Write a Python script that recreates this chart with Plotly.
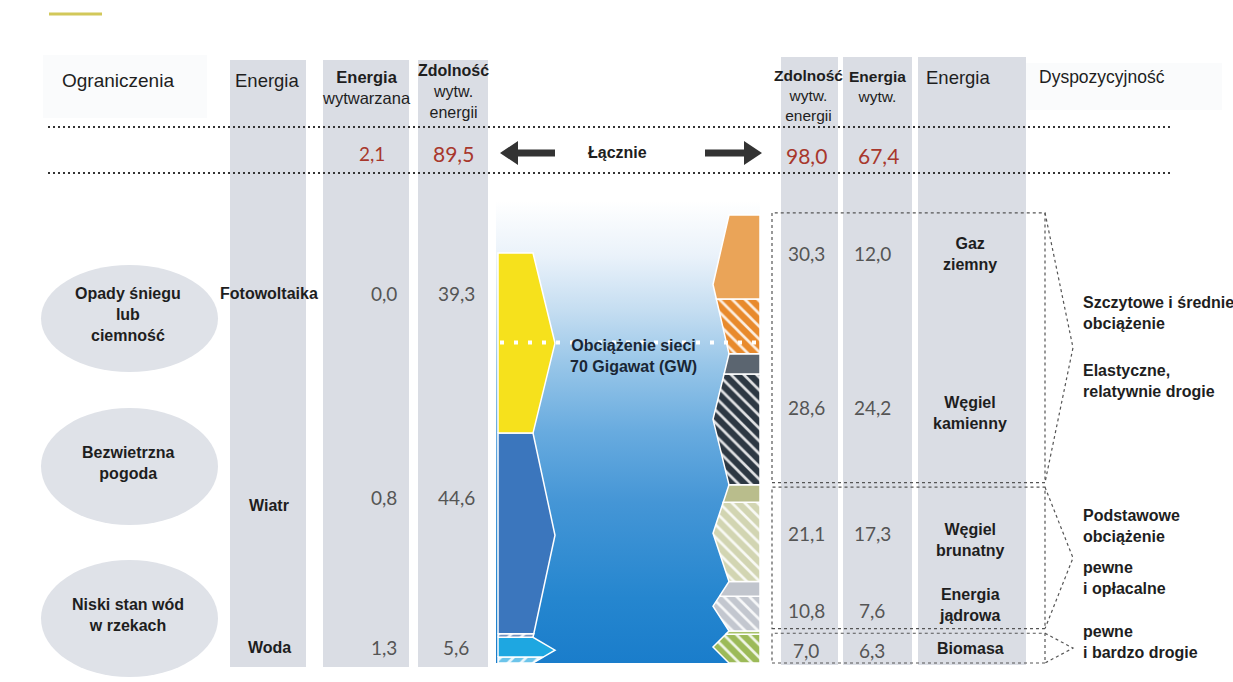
import plotly.graph_objects as go

# ---------------- data ----------------
CONSTRAINTS = ["Opady śniegu<br>lub<br>ciemność", "Bezwietrzna<br>pogoda", "Niski stan wód<br>w rzekach"]
LEFT_SOURCES = ["Fotowoltaika", "Wiatr", "Woda"]            # top -> bottom
LEFT_GENERATED = [0.0, 0.8, 1.3]
LEFT_CAPACITY = [39.3, 44.6, 5.6]
RIGHT_SOURCES = ["Gaz<br>ziemny", "Węgiel<br>kamienny", "Węgiel<br>brunatny", "Energia<br>jądrowa", "Biomasa"]
RIGHT_CAPACITY = [30.3, 28.6, 21.1, 10.8, 7.0]
RIGHT_GENERATED = [12.0, 24.2, 17.3, 7.6, 6.3]
AVAIL_GROUPS = [[0, 1], [2, 3], [4]]
AVAIL_LABELS = [["Szczytowe i średnie<br>obciążenie", "Elastyczne,<br>relatywnie drogie"],
                ["Podstawowe<br>obciążenie", "pewne<br>i opłacalne"],
                ["pewne<br>i bardzo drogie"]]
TOTAL_LEFT_GENERATED = 2.1
TOTAL_LEFT_CAPACITY = 89.5
TOTAL_RIGHT_CAPACITY = 98.0
TOTAL_RIGHT_GENERATED = 67.4
GRID_LOAD_GW = 70
GRID_LOAD_TEXT = "Obciążenie sieci<br>70 Gigawat (GW)"

# ---------------- styles / layout ----------------
W, H = 1233, 682
BASE_PX = 663.0
PX_PER_GW = 4.58
LEFT_SOLID = ["#f6e11c", "#3b76bd", "#1ea7e1"]
LEFT_HATCH = ["#f6e11c", "#7393c0", "#6cc4ea"]
RIGHT_SOLID = ["#eaa458", "#5b6570", "#b9bd8c", "#c1c5cd", "#a8c36a"]
RIGHT_HATCH = ["#e88a2c", "#2d3843", "#d2d5b2", "#c3c7cf", "#9cba58"]
COL_GRAY = "#dadde4"
BOLD = "Liberation Sans"
NUMF = "Lato"
DARK = "#1e1e1e"
NUM_GRAY = "#555555"
RED = "#a8372c"

LEFT_ROW_Y = [293, 497, 647]
LEFT_LABEL_Y = [293, 505, 647]
RIGHT_ROW_Y = [253, 407, 533, 610, 650]
RIGHT_LABEL_Y = [254, 413, 540, 605, 648]
ELLIPSE_Y = [(265, 372), (408, 525), (560, 677)]
AVAIL_Y = [[313, 381], [526, 578], [642]]


def fmt(v):
    return f"{v:.1f}".replace(".", ",")


def chevron_piece(y0, y1, ya, yb, x_flat, x_body, x_tip):
    mid = (y0 + y1) / 2.0
    half = (y1 - y0) / 2.0

    def edge(y):
        return x_body + (x_tip - x_body) * (1 - abs(y - mid) / half)

    xs = [x_flat, edge(ya)]
    ys = [ya, ya]
    if ya < mid < yb:
        xs.append(x_tip)
        ys.append(mid)
    xs += [edge(yb), x_flat, x_flat]
    ys += [yb, yb, ya]
    return xs, ys


fig = go.Figure()

# gradient background
fig.add_trace(go.Scatter(
    x=[496, 760, 760, 496, 496], y=[0, 0, 101, 101, 0], mode="lines", fill="toself",
    line=dict(width=0), hoverinfo="skip",
    fillgradient=dict(type="vertical", start=0, stop=101,
                      colorscale=[[0, "#1a7dcb"], [0.14, "#2586cf"], [0.35, "#4596d6"],
                                  [0.5, "#68abdf"], [0.64, "#96c5e8"], [0.76, "#c4ddf1"],
                                  [0.88, "#eaf2fa"], [1, "#ffffff"]])))


def add_piece(xs, ys, color, hatched, shape):
    kw = dict(x=xs, y=ys, mode="lines", fill="toself", fillcolor=color,
              line=dict(color="white", width=1.5), hoverinfo="skip")
    if hatched:
        kw["fillpattern"] = dict(shape=shape, bgcolor=color, fgcolor="rgba(255,255,255,0.85)",
                                 size=9, solidity=0.3, fillmode="replace")
    fig.add_trace(go.Scatter(**kw))


# left stack (renewables), bottom-up
cum = 0.0
for i in reversed(range(len(LEFT_SOURCES))):
    y0, y1 = cum, cum + LEFT_CAPACITY[i]
    g = LEFT_GENERATED[i]
    if g > 0:
        xs, ys = chevron_piece(y0, y1, y0, y0 + g, 498, 533, 555)
        add_piece(xs, ys, LEFT_HATCH[i], True, "/")
    xs, ys = chevron_piece(y0, y1, y0 + g, y1, 498, 533, 555)
    add_piece(xs, ys, LEFT_SOLID[i], False, "")
    cum = y1

# right stack (conventional), bottom-up
cum = 0.0
right_bounds = {}
for i in reversed(range(len(RIGHT_SOURCES))):
    y0, y1 = cum, cum + RIGHT_CAPACITY[i]
    right_bounds[i] = (y0, y1)
    g = RIGHT_GENERATED[i]
    xs, ys = chevron_piece(y0, y1, y0, y0 + g, 760, 729, 713)
    add_piece(xs, ys, RIGHT_HATCH[i], True, "\\")
    xs, ys = chevron_piece(y0, y1, y0 + g, y1, 760, 729, 713)
    add_piece(xs, ys, RIGHT_SOLID[i], False, "")
    cum = y1

# grid load line
fig.add_trace(go.Scatter(x=[500, 760], y=[GRID_LOAD_GW, GRID_LOAD_GW], mode="lines",
                         line=dict(color="white", width=4, dash="4px,10px"), hoverinfo="skip"))

shapes = []
ann = []

# header faint panels and top accent
shapes.append(dict(type="rect", xref="x", yref="y2", x0=43, x1=207, y0=55, y1=118,
                   fillcolor="#fafbfc", line=dict(width=0), layer="below"))
shapes.append(dict(type="rect", xref="x", yref="y2", x0=1026, x1=1222, y0=63, y1=110,
                   fillcolor="#fafbfc", line=dict(width=0), layer="below"))
shapes.append(dict(type="line", xref="x", yref="y2", x0=49, x1=102, y0=14, y1=14,
                   line=dict(color="#d2c85a", width=3)))

# gray columns
for x0, x1, top, bot in [(230, 306, 60, 667), (323, 409, 60, 667), (418, 488, 60, 667),
                         (781, 838, 57, 665), (843, 912, 57, 665), (918, 1026, 57, 665)]:
    shapes.append(dict(type="rect", xref="x", yref="y2", x0=x0, x1=x1, y0=top, y1=bot,
                       fillcolor=COL_GRAY, line=dict(width=0), layer="below"))

# ellipses
for (e0, e1) in ELLIPSE_Y:
    shapes.append(dict(type="circle", xref="x", yref="y2", x0=41, x1=218, y0=e0, y1=e1,
                       fillcolor="#dfe2e8", line=dict(width=0), layer="below"))

# dotted separators
for yy in (127, 173):
    shapes.append(dict(type="line", xref="x", yref="y2", x0=48, x1=1170, y0=yy, y1=yy,
                       line=dict(color="#333333", width=2, dash="2px,3px")))

# arrows
shapes.append(dict(type="path", xref="x", yref="y2",
                   path="M 500 153 L 518 141 L 518 149.5 L 555 149.5 L 555 156.5 L 518 156.5 L 518 165 Z",
                   fillcolor="#333333", line=dict(width=0)))
shapes.append(dict(type="path", xref="x", yref="y2",
                   path="M 762 153 L 744 141 L 744 149.5 L 705 149.5 L 705 156.5 L 744 156.5 L 744 165 Z",
                   fillcolor="#333333", line=dict(width=0)))

# dotted group boxes and brackets (in GW units)
for gi, grp in enumerate(AVAIL_GROUPS):
    lo = min(right_bounds[i][0] for i in grp)
    hi = max(right_bounds[i][1] for i in grp)
    b = lo + (0.5 if lo > 0 else 0.0)
    t = hi + (0.5 if gi == 0 else -0.5)
    shapes.append(dict(type="rect", xref="x", yref="y", x0=772, x1=1045, y0=b, y1=t,
                       line=dict(color="#555555", width=1.2, dash="dot"), fillcolor="rgba(0,0,0,0)"))
    mid = (b + t) / 2
    shapes.append(dict(type="path", xref="x", yref="y",
                       path=f"M 1045 {t} L 1073 {mid} L 1045 {b}",
                       line=dict(color="#555555", width=1.2, dash="dot")))


def A(x, y, text, size, color=DARK, family=BOLD, bold=False, xanchor="center", yref="y2"):
    if bold:
        text = f"<b>{text}</b>"
    ann.append(dict(x=x, y=y, xref="x", yref=yref, text=text, showarrow=False,
                    xanchor=xanchor, yanchor="middle", align="center" if xanchor == "center" else "left",
                    font=dict(family=family, size=size, color=color)))


# headers
A(118, 80, "Ograniczenia", 19)
A(267, 80, "Energia", 18.5)
A(366, 87, "<b>Energia</b><br>wytwarzana", 16.5)
A(453, 91, "<b>Zdolność</b><br>wytw.<br>energii", 16)
A(808, 95, "<b>Zdolność</b><br>wytw.<br>energii", 15.5)
A(877, 86, "<b>Energia</b><br>wytw.", 15.5)
A(958, 77, "Energia", 18.5)
A(1102, 77, "Dyspozycyjność", 17.5)

# totals row
A(372, 153, fmt(TOTAL_LEFT_GENERATED), 19, RED, NUMF)
A(453, 153, fmt(TOTAL_LEFT_CAPACITY), 21, RED, NUMF)
A(617, 152, "Łącznie", 16, bold=True)
A(806, 155, fmt(TOTAL_RIGHT_CAPACITY), 21, RED, NUMF)
A(878, 155, fmt(TOTAL_RIGHT_GENERATED), 21, RED, NUMF)

# constraints
for (e0, e1), txt in zip(ELLIPSE_Y, CONSTRAINTS):
    A(128, (e0 + e1) / 2 - 4, txt, 16, bold=True)

# left rows
for i, name in enumerate(LEFT_SOURCES):
    A(269, LEFT_LABEL_Y[i], name, 16, bold=True)
    A(384, LEFT_ROW_Y[i], fmt(LEFT_GENERATED[i]), 19, NUM_GRAY, NUMF)
    A(456, LEFT_ROW_Y[i], fmt(LEFT_CAPACITY[i]), 19, NUM_GRAY, NUMF)

# right rows
for i, name in enumerate(RIGHT_SOURCES):
    A(806, RIGHT_ROW_Y[i], fmt(RIGHT_CAPACITY[i]), 19, NUM_GRAY, NUMF)
    A(872, RIGHT_ROW_Y[i], fmt(RIGHT_GENERATED[i]), 19, NUM_GRAY, NUMF)
    A(970, RIGHT_LABEL_Y[i], name, 16, bold=True)

# availability labels
for labels, ys in zip(AVAIL_LABELS, AVAIL_Y):
    for t, yy in zip(labels, ys):
        A(1081, yy, t, 16, bold=True, xanchor="left")

# grid load text
A(633, 356, GRID_LOAD_TEXT, 16, "#1a2635", bold=True)

y_lo = -(H - BASE_PX) / PX_PER_GW
y_hi = BASE_PX / PX_PER_GW

fig.update_layout(
    width=W, height=H, margin=dict(l=0, r=0, t=0, b=0),
    paper_bgcolor="white", plot_bgcolor="white", showlegend=False,
    xaxis=dict(range=[0, W], visible=False, fixedrange=True),
    yaxis=dict(range=[y_lo, y_hi], visible=False, fixedrange=True),
    yaxis2=dict(range=[H, 0], visible=False, overlaying="y", fixedrange=True),
    shapes=shapes, annotations=ann,
)

fig.write_html("out.html", config={"displayModeBar": False},
               post_script="document.body.style.margin='0';")
